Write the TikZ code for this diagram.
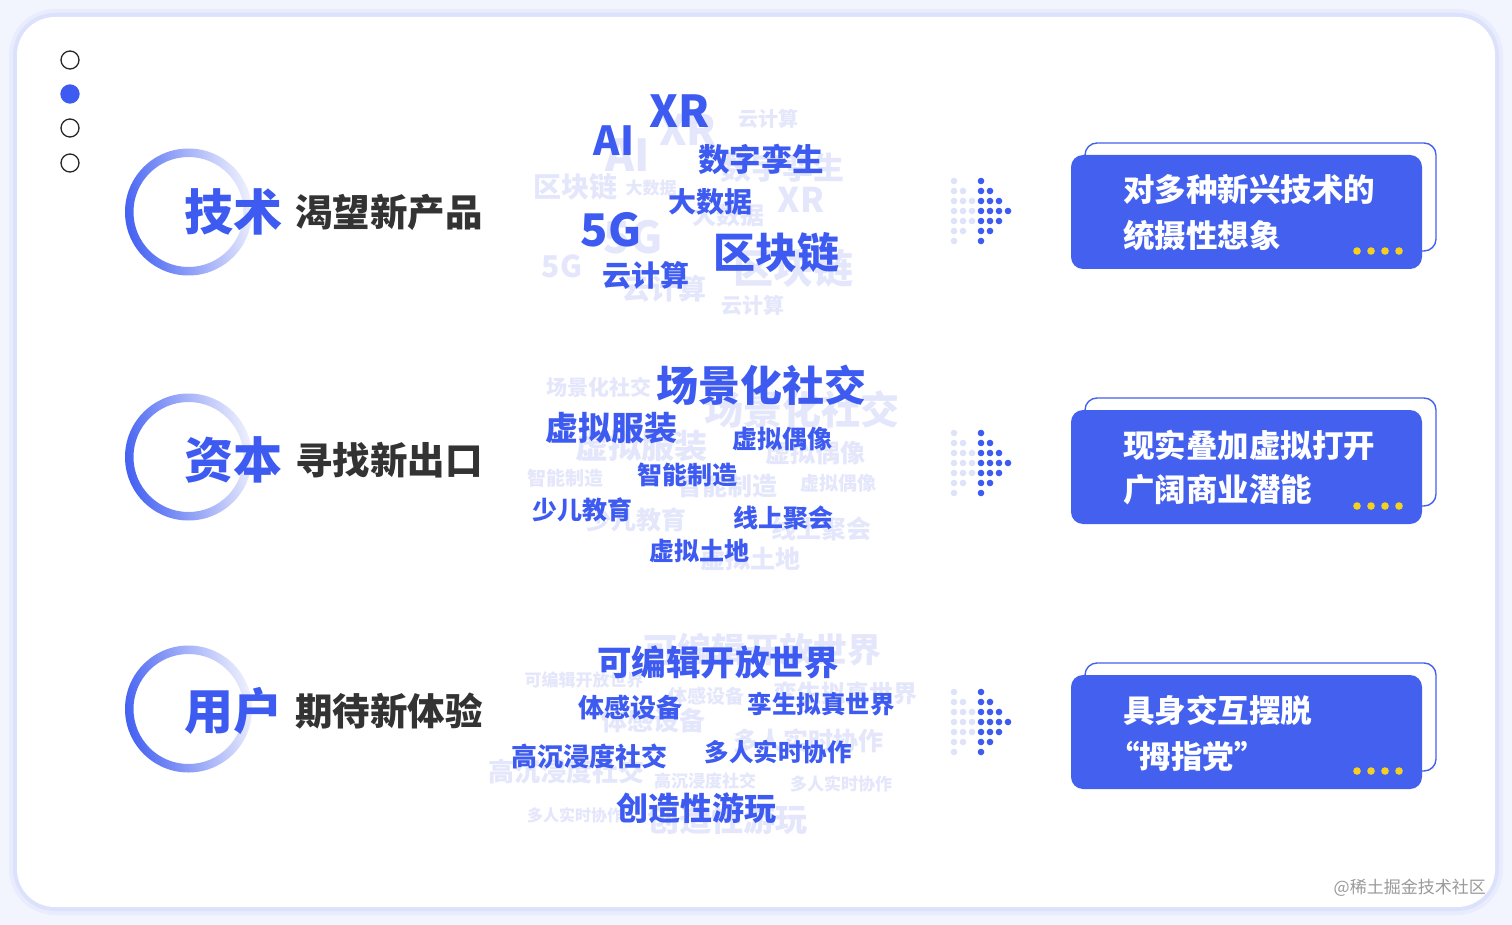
\documentclass[tikz,border=0pt]{standalone}
\usepackage{fontspec}
\newfontfamily\cjk{Noto Sans CJK SC}
\definecolor{pagebg}{HTML}{F3F5FE}
\definecolor{glowA}{HTML}{E8ECFD}
\definecolor{glowB}{HTML}{DCE2FB}
\definecolor{wordblue}{HTML}{3D5AF1}
\definecolor{ghost}{HTML}{E4E7FB}
\definecolor{boxblue}{HTML}{4361EE}
\definecolor{ringblue}{HTML}{4461F2}
\definecolor{ringlight}{HTML}{EEF0FD}
\definecolor{titlegray}{HTML}{333333}
\definecolor{dotyellow}{HTML}{F5D01F}
\definecolor{dotlight}{HTML}{DEE3FA}
\definecolor{wmgray}{HTML}{9A9A9A}
\tikzset{
  dk/.style={font=\cjk\bfseries\fontsize{#1}{#1}\selectfont, text=wordblue, inner sep=0pt},
  gh/.style={font=\cjk\bfseries\fontsize{#1}{#1}\selectfont, text=ghost, inner sep=0pt},
  bigtitle/.style={font=\cjk\bfseries\fontsize{49}{49}\selectfont, text=wordblue, inner sep=0pt, anchor=west},
  subtitle/.style={font=\cjk\bfseries\fontsize{37.5}{37.5}\selectfont, text=titlegray, inner sep=0pt, anchor=west},
  boxtext/.style={font=\cjk\bfseries\fontsize{31.5}{31.5}\selectfont, text=white, inner sep=0pt, anchor=west},
  navdot/.style={circle, minimum size=18pt, inner sep=0pt, draw=black!85, line width=1.3pt},
  arrowdots/.pic={
    \foreach \r/\n in {0/1,1/2,2/3,3/3,4/3,5/2,6/1}{
      \foreach \c in {1,...,\n}{
        \fill[dotlight] ({(\c-1-3)*9},{(\r-3)*10}) circle (3.3pt);
      }
    }
    \foreach \r/\n in {0/1,1/2,2/3,3/4,4/3,5/2,6/1}{
      \foreach \c in {1,...,\n}{
        \fill[wordblue] ({(\c-1)*9},{(\r-3)*10}) circle (3.3pt);
      }
    }
  },
  ydots/.pic={
    \foreach \i in {0,...,3}{\fill[dotyellow] ({\i*14},0) circle (3.8pt);}
  }
}
\begin{document}
\begin{tikzpicture}[x=1pt,y=-1pt]
\useasboundingbox (0,0) rectangle (1512,925);
% background and card
\fill[pagebg] (0,0) rectangle (1512,925);
\fill[glowA, rounded corners=46pt] (9,9) rectangle (1503,915);
\fill[glowB, rounded corners=42pt] (13,13) rectangle (1499,911);
\fill[white, rounded corners=38pt] (17,17) rectangle (1495,907);

% navigation dots
\node[navdot] (n1) at (70,60) {};
\node[navdot, fill=wordblue, draw=wordblue] (n2) at (70,94) {};
\node[navdot] (n3) at (70,128) {};
\node[navdot] (n4) at (70,163) {};

% rings
\foreach \cy in {212,457,709}{
  \path[shade, left color=ringblue, right color=ringlight, shading angle=100, even odd rule]
    (188.5,\cy) circle (63.5pt) (188.5,\cy) circle (55pt);
}

% titles
\node[bigtitle] (t1a) at (184,212) {技术};
\node[subtitle] (t1b) at (295,212) {渴望新产品};
\node[bigtitle] (t2a) at (184,460) {资本};
\node[subtitle] (t2b) at (295,460) {寻找新出口};
\node[bigtitle] (t3a) at (184,711) {用户};
\node[subtitle] (t3b) at (295,711) {期待新体验};

% ===== cloud 1 ghosts
\node[gh=20] (g11) at (768,119) {云计算};
\node[gh=42] (g12) at (688,130) {XR};
\node[gh=44] (g13) at (628,155) {AI};
\node[gh=31] (g14) at (782,168) {数字孪生};
\node[gh=28] (g15) at (575,187) {区块链};
\node[gh=17] (g16) at (651,188) {大数据};
\node[gh=34] (g17) at (801,200) {XR};
\node[gh=24] (g18) at (728,215) {大数据};
\node[gh=44] (g19) at (633,237) {5G};
\node[gh=30] (g110) at (562,266) {5G};
\node[gh=40] (g111) at (793,268) {区块链};
\node[gh=28] (g112) at (664,289) {云计算};
\node[gh=21] (g113) at (753,306) {云计算};
% cloud 1 words
\node[dk=44] (w11) at (680,111) {XR};
\node[dk=40] (w12) at (614,141) {AI};
\node[dk=31.5] (w13) at (761,159) {数字孪生};
\node[dk=28] (w14) at (710,202) {大数据};
\node[dk=45] (w15) at (611,230) {5G};
\node[dk=42] (w16) at (776,253) {区块链};
\node[dk=29] (w17) at (646,275) {云计算};

% ===== cloud 2 ghosts
\node[gh=21] (g21) at (599,387) {场景化社交};
\node[gh=39] (g22) at (802,409) {场景化社交};
\node[gh=33] (g23) at (641,446) {虚拟服装};
\node[gh=25] (g24) at (815,453) {虚拟偶像};
\node[gh=19] (g25) at (565,478) {智能制造};
\node[gh=25] (g26) at (727,486) {智能制造};
\node[gh=19] (g27) at (838,483) {虚拟偶像};
\node[gh=25] (g28) at (636,520) {少儿教育};
\node[gh=25] (g29) at (821,529) {线上聚会};
\node[gh=25] (g210) at (750,559) {虚拟土地};
% cloud 2 words
\node[dk=42] (w21) at (761,385) {场景化社交};
\node[dk=33] (w22) at (611,428) {虚拟服装};
\node[dk=25] (w23) at (782,439) {虚拟偶像};
\node[dk=25] (w24) at (687,475) {智能制造};
\node[dk=25] (w25) at (582,510) {少儿教育};
\node[dk=25] (w26) at (783,518) {线上聚会};
\node[dk=25] (w27) at (699,551) {虚拟土地};

% ===== cloud 3 ghosts
\node[gh=34] (g31) at (762,650) {可编辑开放世界};
\node[gh=17] (g32) at (584,680) {可编辑开放世界};
\node[gh=19] (g33) at (706,696) {体感设备};
\node[gh=24] (g34) at (845,693) {孪生拟真世界};
\node[gh=26] (g35) at (653,721) {体感设备};
\node[gh=25] (g36) at (808,741) {多人实时协作};
\node[gh=26] (g37) at (566,771) {高沉浸度社交};
\node[gh=17] (g38) at (705,781) {高沉浸度社交};
\node[gh=17] (g39) at (841,784) {多人实时协作};
\node[gh=16] (g310) at (575,815) {多人实时协作};
\node[gh=32] (g311) at (727,819) {创造性游玩};
% cloud 3 words
\node[dk=34.5] (w31) at (718,662) {可编辑开放世界};
\node[dk=26] (w32) at (630,708) {体感设备};
\node[dk=24.5] (w33) at (821,704) {孪生拟真世界};
\node[dk=26] (w34) at (589,756) {高沉浸度社交};
\node[dk=24.5] (w35) at (778,752) {多人实时协作};
\node[dk=32] (w36) at (696,808) {创造性游玩};

% arrows of dots
\pic at (981,211) {arrowdots};
\pic at (981,463) {arrowdots};
\pic at (981,722) {arrowdots};

% result boxes
\foreach \t in {143,398,663}{
  \draw[boxblue, line width=1.4pt, rounded corners=12pt] (1085,\t) rectangle (1436,\t+108);
  \fill[boxblue, rounded corners=12pt] (1071,\t+12) rectangle (1422,\t+126);
  \pic at (1357,\t+108) {ydots};
}
\node[boxtext] (b1a) at (1123,189) {对多种新兴技术的};
\node[boxtext] (b1b) at (1123,235) {统摄性想象};
\node[boxtext] (b2a) at (1123,445) {现实叠加虚拟打开};
\node[boxtext] (b2b) at (1123,490) {广阔商业潜能};
\node[boxtext] (b3a) at (1123,710) {具身交互摆脱};
\node[boxtext] (b3b) at (1108,756) {“拇指党”};

% watermark
\node[font=\cjk\fontsize{17}{17}\selectfont, text=wmgray, anchor=east, inner sep=0pt] (wm) at (1486,888) {@稀土掘金技术社区};
\end{tikzpicture}
\end{document}
